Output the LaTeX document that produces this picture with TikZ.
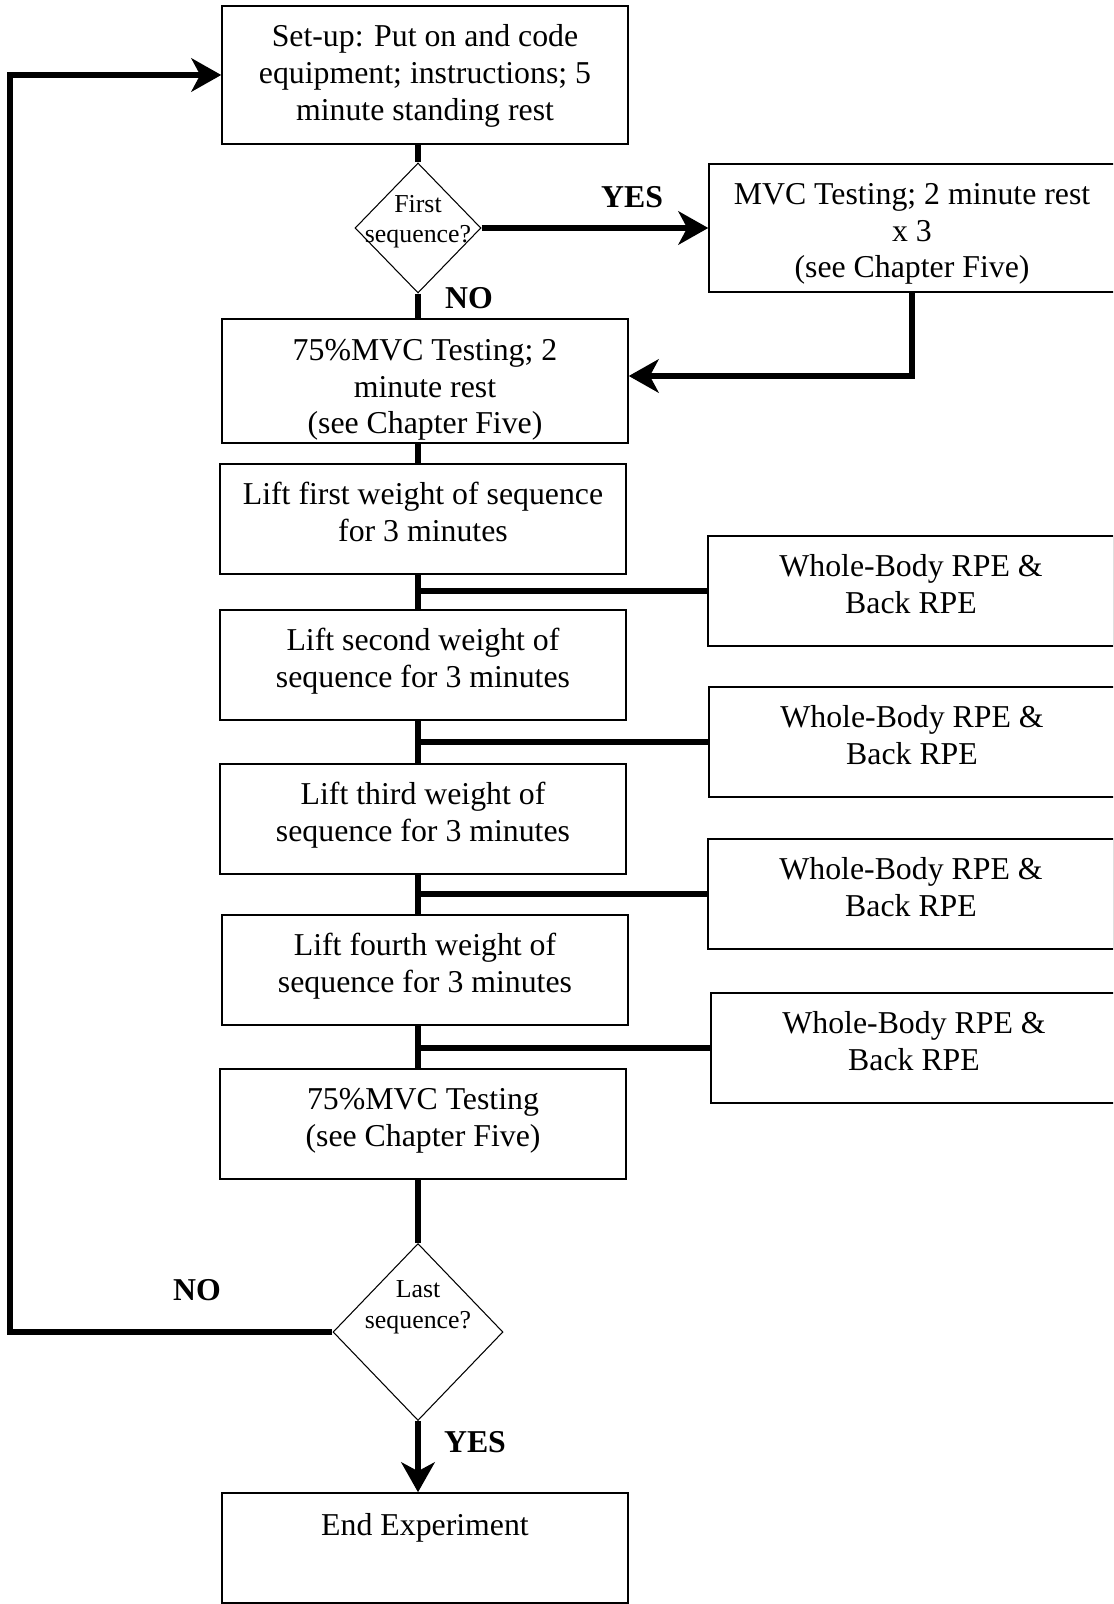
\documentclass[tikz,border=0pt]{standalone}
\usepackage{fontspec}
\setmainfont{Liberation Serif}
\usetikzlibrary{shapes.geometric,arrows.meta}
\newcommand{\nowd}[1]{\makebox[0pt]{#1}}
\begin{document}
\begin{tikzpicture}[x=0.02cm,y=-0.02cm,
    box/.style={draw,line width=0.9pt,minimum width=8.12cm,minimum height=2.2cm,align=center,inner sep=0pt,text depth=0.28cm,font=\fontsize{18.1}{21}\selectfont},
    decision/.style={draw,diamond,line width=0.6pt,inner sep=0pt,align=center,font=\fontsize{14.7}{17.4}\selectfont},
    line/.style={line width=3pt},
    arrow/.style={line width=3pt,-{Stealth[length=17pt,width=19pt,inset=5pt]}},
    answer/.style={font=\fontsize{18.1}{21}\selectfont\bfseries}]
      \clip (0,0) rectangle (1113,1604);
      \node[box,minimum height=2.76cm,text depth=0.1cm] (setup) at (425,75) {Set-up: Put on and code\\equipment; instructions; 5\\minute standing rest};
      \node[decision,minimum width=2.52cm,minimum height=2.6cm,text depth=0.36cm] (first) at (418,228) {\nowd{First}\\\nowd{sequence?}};
      \node[box,minimum height=2.56cm,text height=2cm,text depth=0pt] (mvc) at (912,228) {MVC Testing; 2 minute rest\\x 3\\(see Chapter Five)};
      \node[box,minimum height=2.48cm,text height=2.12cm,text depth=0pt] (mvc75a) at (425,381) {75\%MVC Testing; 2\\minute rest\\(see Chapter Five)};
      \node[box] (lift1) at (423,519) {Lift first weight of sequence\\for 3 minutes};
      \node[box] (lift2) at (423,665) {Lift second weight of\\sequence for 3 minutes};
      \node[box] (lift3) at (423,819) {Lift third weight of\\sequence for 3 minutes};
      \node[box] (lift4) at (425,970) {Lift fourth weight of\\sequence for 3 minutes};
      \node[box] (mvc75b) at (423,1124) {75\%MVC Testing\\(see Chapter Five)};
      \node[box] (rpe1) at (911,591) {Whole-Body RPE \&\\Back RPE};
      \node[box] (rpe2) at (912,742) {Whole-Body RPE \&\\Back RPE};
      \node[box] (rpe3) at (911,894) {Whole-Body RPE \&\\Back RPE};
      \node[box] (rpe4) at (914,1048) {Whole-Body RPE \&\\Back RPE};
      \node[decision,minimum width=3.4cm,minimum height=3.54cm,text depth=1.1cm] (last) at (418,1332) {\nowd{Last}\\\nowd{sequence?}};
      \node[box,text height=0.84cm,text depth=1.36cm] (end) at (425,1548) {End Experiment};
      \coordinate (loop) at (10,1332);
      \node[answer] (yes1) at (632,197) {YES};
      \node[answer] (no1) at (469,298) {NO};
      \node[answer] (no2) at (197,1290) {NO};
      \node[answer] (yes2) at (475,1442) {YES};
      \draw[line] (setup.south -| first.north) -- (first.north);
      \draw[arrow] (first.east) -- (mvc.west);
      \draw[line] (first.south) -- (first.south |- mvc75a.north);
      \draw[arrow] (mvc.south) |- ([yshift=0.1cm]mvc75a.east);
      \draw[line] (mvc75a.south -| first.south) -- (lift1.north -| first.south);
      \draw[line] (lift1.south -| first.south) -- (lift2.north -| first.south);
      \draw[line] (lift2.south -| first.south) -- (lift3.north -| first.south);
      \draw[line] (lift3.south -| first.south) -- (lift4.north -| first.south);
      \draw[line] (lift4.south -| first.south) -- (mvc75b.north -| first.south);
      \draw[line] (rpe1.west) -- (rpe1.west -| first.south);
      \draw[line] (rpe2.west) -- (rpe2.west -| first.south);
      \draw[line] (rpe3.west) -- (rpe3.west -| first.south);
      \draw[line] (rpe4.west) -- (rpe4.west -| first.south);
      \draw[line] (mvc75b.south -| last.north) -- (last.north);
      \draw[arrow] (last.south) -- (last.south |- end.north);
      \draw[arrow] (last.west) -- (loop) |- (setup.west);
\end{tikzpicture}
\end{document}
